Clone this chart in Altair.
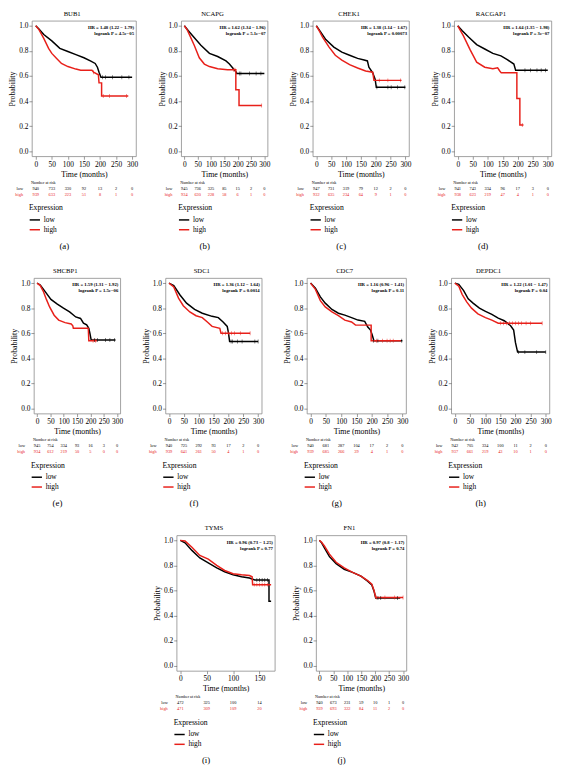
import altair as alt
import pandas as pd

SERIF = "Liberation Serif"
RED = "#e8201a"
H = 138

GENES = ["BUB1", "NCAPG", "CHEK1", "RACGAP1", "SHCBP1", "SDC1", "CDC7", "DEPDC1", "TYMS", "FN1"]
LETTERS = ["(a)", "(b)", "(c)", "(d)", "(e)", "(f)", "(g)", "(h)", "(i)", "(j)"]
HR_TEXT = ["HR = 1.48 (1.22 − 1.79)", "HR = 1.62 (1.34 − 1.96)", "HR = 1.38 (1.14 − 1.67)",
           "HR = 1.64 (1.35 − 1.98)", "HR = 1.59 (1.31 − 1.92)", "HR = 1.36 (1.12 − 1.64)",
           "HR = 1.16 (0.96 − 1.41)", "HR = 1.22 (1.01 − 1.47)", "HR = 0.96 (0.73 − 1.25)",
           "HR = 0.97 (0.8 − 1.17)"]
P_TEXT = ["logrank P = 4.5e−05", "logrank P = 5.1e−07", "logrank P = 0.00073",
          "logrank P = 3e−07", "logrank P = 1.5e−06", "logrank P = 0.0014",
          "logrank P = 0.11", "logrank P = 0.04", "logrank P = 0.77", "logrank P = 0.74"]
WIDTHS = [106, 88, 98, 99, 88, 98, 101, 100, 100, 92]

RISK_TIMES = [0, 50, 100, 150, 200, 250, 300]
TYMS_RISK_TIMES = [0, 50, 100, 150]

# ---- survival curves (time in months, probability) ----
BUB1_LOW = [(0, 1.0), (10, 0.975), (25, 0.93), (50, 0.88), (75, 0.82), (100, 0.795), (125, 0.77),
            (150, 0.745), (170, 0.72), (185, 0.70), (192, 0.67), (197, 0.63), (203, 0.59), (300, 0.59)]
BUB1_HIGH = [(0, 1.0), (10, 0.97), (25, 0.90), (40, 0.82), (50, 0.78), (65, 0.74), (80, 0.70),
             (100, 0.675), (125, 0.655), (140, 0.645), (175, 0.645), (180, 0.63), (195, 0.61),
             (197, 0.545), (205, 0.545), (205, 0.44), (288, 0.44)]
BUB1_LOW_CENS = [(208, 0.59), (217, 0.59), (239, 0.59), (268, 0.59), (290, 0.59)]
BUB1_HIGH_CENS = [(180, 0.63), (210, 0.44), (230, 0.44), (283, 0.44)]

NCAPG_LOW = [(0, 1.0), (15, 0.96), (31, 0.92), (62, 0.845), (94, 0.78), (125, 0.755), (156, 0.72),
             (169, 0.695), (187, 0.65), (195, 0.63), (196, 0.62), (300, 0.62)]
NCAPG_HIGH = [(0, 1.0), (10, 0.97), (19, 0.93), (37, 0.845), (56, 0.745), (75, 0.695), (94, 0.675),
              (125, 0.657), (162, 0.65), (193, 0.65), (193, 0.49), (205, 0.49), (205, 0.365), (290, 0.365)]
NCAPG_LOW_CENS = [(206, 0.62), (212, 0.62), (244, 0.62), (269, 0.62), (287, 0.62)]
NCAPG_HIGH_CENS = [(185, 0.65), (190, 0.65), (290, 0.365)]

CHEK1_LOW = [(0, 1.0), (15, 0.95), (32, 0.89), (59, 0.83), (86, 0.79), (112, 0.765), (139, 0.74),
             (161, 0.727), (172, 0.72), (177, 0.67), (190, 0.625), (198, 0.575), (202, 0.51), (300, 0.51)]
CHEK1_HIGH = [(0, 1.0), (10, 0.96), (21, 0.91), (43, 0.83), (64, 0.765), (86, 0.727), (112, 0.69),
              (139, 0.664), (166, 0.64), (190, 0.63), (194, 0.565), (287, 0.565)]
CHEK1_LOW_CENS = [(204, 0.51), (241, 0.51), (252, 0.51), (273, 0.51), (298, 0.51)]
CHEK1_HIGH_CENS = [(212, 0.565), (241, 0.565), (284, 0.565)]

RACGAP1_LOW = [(0, 1.0), (15, 0.96), (36, 0.91), (63, 0.85), (90, 0.815), (117, 0.78), (144, 0.76),
               (165, 0.73), (187, 0.695), (193, 0.645), (300, 0.645)]
RACGAP1_HIGH = [(0, 1.0), (19, 0.92), (41, 0.81), (63, 0.71), (90, 0.67), (117, 0.657), (133, 0.665),
                (140, 0.64), (145, 0.625), (197, 0.625), (197, 0.42), (207, 0.42), (207, 0.21), (219, 0.21)]
RACGAP1_LOW_CENS = [(224, 0.645), (243, 0.645), (264, 0.645), (278, 0.645), (292, 0.645)]
RACGAP1_HIGH_CENS = [(215, 0.21)]

SHCBP1_LOW = [(0, 1.0), (12, 0.985), (29, 0.936), (52, 0.87), (76, 0.833), (99, 0.80), (122, 0.77),
              (145, 0.73), (163, 0.718), (174, 0.68), (186, 0.667), (194, 0.64), (198, 0.60),
              (203, 0.546), (294, 0.546)]
SHCBP1_HIGH = [(0, 1.0), (12, 0.98), (23, 0.936), (35, 0.87), (47, 0.81), (64, 0.744), (81, 0.705),
               (105, 0.685), (128, 0.674), (134, 0.66), (136, 0.64), (192, 0.64), (194, 0.54), (224, 0.54)]
SHCBP1_LOW_CENS = [(215, 0.546), (227, 0.546), (256, 0.546), (273, 0.546), (291, 0.546)]
SHCBP1_HIGH_CENS = [(210, 0.54), (220, 0.54)]

SDC1_LOW = [(0, 1.0), (16, 0.98), (37, 0.905), (59, 0.84), (86, 0.79), (112, 0.76), (145, 0.735),
            (166, 0.725), (182, 0.69), (196, 0.655), (200, 0.605), (204, 0.535), (300, 0.535)]
SDC1_HIGH = [(0, 1.0), (16, 0.97), (32, 0.88), (48, 0.82), (70, 0.77), (91, 0.74), (112, 0.725),
             (129, 0.69), (145, 0.655), (171, 0.64), (175, 0.60), (273, 0.60)]
SDC1_LOW_CENS = [(209, 0.535), (214, 0.535), (230, 0.535), (246, 0.535), (289, 0.535), (300, 0.535)]
SDC1_HIGH_CENS = [(180, 0.60), (190, 0.60), (200, 0.60), (210, 0.60), (220, 0.60), (240, 0.60), (273, 0.60)]

CDC7_LOW = [(0, 1.0), (16, 0.96), (32, 0.89), (48, 0.84), (70, 0.79), (91, 0.76), (112, 0.745),
            (134, 0.725), (155, 0.705), (177, 0.695), (187, 0.65), (196, 0.625), (201, 0.59),
            (207, 0.54), (300, 0.54)]
CDC7_HIGH = [(0, 1.0), (16, 0.95), (32, 0.86), (48, 0.81), (70, 0.77), (91, 0.74), (112, 0.705),
             (134, 0.69), (147, 0.665), (198, 0.665), (198, 0.54), (295, 0.54)]
CDC7_LOW_CENS = [(205, 0.54), (220, 0.54), (298, 0.54)]
CDC7_HIGH_CENS = [(215, 0.54), (235, 0.54), (250, 0.54), (260, 0.54), (270, 0.54)]

DEPDC1_LOW = [(0, 1.0), (13, 0.99), (29, 0.94), (44, 0.875), (60, 0.84), (81, 0.80), (101, 0.775),
              (122, 0.75), (143, 0.72), (163, 0.70), (184, 0.66), (194, 0.625), (200, 0.525),
              (207, 0.45), (300, 0.45)]
DEPDC1_HIGH = [(0, 1.0), (13, 0.975), (24, 0.91), (39, 0.85), (55, 0.80), (76, 0.755), (101, 0.725),
               (122, 0.705), (143, 0.68), (288, 0.68)]
DEPDC1_LOW_CENS = [(210, 0.45), (231, 0.45), (270, 0.45), (300, 0.45)]
DEPDC1_HIGH_CENS = [(150, 0.68), (160, 0.68), (170, 0.68), (180, 0.68), (190, 0.68), (200, 0.68),
                    (210, 0.68), (220, 0.68), (235, 0.68), (250, 0.68), (288, 0.68)]

TYMS_LOW = [(0, 1.0), (9, 0.98), (22, 0.92), (37, 0.86), (53, 0.82), (69, 0.78), (84, 0.75),
            (100, 0.726), (116, 0.71), (131, 0.70), (141, 0.684), (168, 0.684), (168, 0.515), (172, 0.515)]
TYMS_HIGH = [(0, 1.0), (9, 0.995), (22, 0.945), (37, 0.88), (53, 0.85), (69, 0.80), (84, 0.76),
             (100, 0.734), (116, 0.726), (131, 0.72), (136, 0.71), (137, 0.647), (172, 0.647)]
TYMS_LOW_CENS = [(145, 0.684), (150, 0.684), (155, 0.684), (160, 0.684), (165, 0.684)]
TYMS_HIGH_CENS = [(140, 0.647), (145, 0.647), (150, 0.647), (155, 0.647), (160, 0.647), (165, 0.647)]

FN1_LOW = [(0, 1.0), (8, 0.98), (18, 0.94), (36, 0.87), (60, 0.815), (89, 0.77), (119, 0.745),
           (149, 0.715), (173, 0.675), (188, 0.645), (196, 0.595), (202, 0.54), (290, 0.54)]
FN1_HIGH = [(0, 1.0), (8, 0.985), (18, 0.955), (36, 0.89), (60, 0.825), (89, 0.78), (119, 0.745),
            (149, 0.715), (173, 0.68), (188, 0.65), (196, 0.60), (202, 0.545), (300, 0.545)]
FN1_LOW_CENS = [(210, 0.54), (220, 0.54), (280, 0.54)]
FN1_HIGH_CENS = [(205, 0.545), (235, 0.545), (270, 0.545), (300, 0.545)]

# ---- number at risk ----
BUB1_RISK_LOW = [940, 733, 330, 92, 13, 2, 0]
BUB1_RISK_HIGH = [939, 633, 223, 51, 8, 1, 0]
NCAPG_RISK_LOW = [945, 736, 325, 85, 15, 2, 0]
NCAPG_RISK_HIGH = [934, 630, 228, 58, 6, 1, 0]
CHEK1_RISK_LOW = [947, 731, 319, 79, 12, 2, 0]
CHEK1_RISK_HIGH = [932, 635, 234, 64, 9, 1, 0]
RACGAP1_RISK_LOW = [941, 743, 334, 96, 17, 3, 0]
RACGAP1_RISK_HIGH = [938, 623, 219, 47, 4, 1, 0]
SHCBP1_RISK_LOW = [945, 754, 334, 93, 16, 3, 0]
SHCBP1_RISK_HIGH = [934, 612, 219, 50, 5, 0, 0]
SDC1_RISK_LOW = [940, 725, 292, 93, 17, 2, 0]
SDC1_RISK_HIGH = [939, 641, 261, 50, 4, 1, 0]
CDC7_RISK_LOW = [940, 681, 287, 104, 17, 2, 0]
CDC7_RISK_HIGH = [939, 685, 266, 39, 4, 1, 0]
DEPDC1_RISK_LOW = [942, 705, 334, 100, 11, 2, 0]
DEPDC1_RISK_HIGH = [937, 661, 219, 43, 10, 1, 0]
TYMS_RISK_LOW = [472, 325, 100, 14]
TYMS_RISK_HIGH = [471, 309, 109, 20]
FN1_RISK_LOW = [940, 673, 231, 59, 10, 1, 0]
FN1_RISK_HIGH = [939, 693, 322, 84, 11, 2, 0]


def curve_df(low, high):
    rows = []
    for g, pts in (("low", low), ("high", high)):
        for i, (t, p) in enumerate(pts):
            rows.append({"t": t, "p": p, "g": g, "i": i})
    return pd.DataFrame(rows)


def pts_df(pts):
    return pd.DataFrame({"t": [a for a, _ in pts], "p": [b for _, b in pts]})


def txt(s, x, y, size, align="center", color="black", weight="normal"):
    return alt.Chart(pd.DataFrame({"s": [s]})).mark_text(
        font=SERIF, fontSize=size, align=align, baseline="middle", color=color, fontWeight=weight
    ).encode(x=alt.value(x), y=alt.value(y), text="s:N")


def panel(k, low, high, low_c, high_c, risk_t, risk_low, risk_high, xdom, xticks):
    W = WIDTHS[k]
    xs = alt.Scale(domain=xdom, nice=False, zero=False)
    ys = alt.Scale(domain=[-0.04, 1.04], nice=False, zero=False)
    x_enc = alt.X("t:Q", scale=xs, axis=alt.Axis(values=xticks, title="Time (months)"))
    y_enc = alt.Y("p:Q", scale=ys, axis=alt.Axis(values=[0, 0.2, 0.4, 0.6, 0.8, 1.0], format=".1f",
                                                  title="Probability"))
    legend = alt.Legend(title="Expression", orient="none", legendX=-3, legendY=H + 49,
                        symbolType="stroke", symbolSize=110, symbolStrokeWidth=1.5,
                        labelFont=SERIF, labelFontSize=7.5, titleFont=SERIF, titleFontSize=7.8,
                        titleFontWeight="normal", rowPadding=0, titlePadding=2, labelOffset=3,
                        padding=0, direction="vertical")
    lines = alt.Chart(curve_df(low, high)).mark_line(strokeWidth=1.5).encode(
        x=x_enc, y=y_enc,
        color=alt.Color("g:N", scale=alt.Scale(domain=["low", "high"], range=["black", RED]), legend=legend),
        detail="g:N",
        order="i:Q",
    )
    cl = alt.Chart(pts_df(low_c)).mark_tick(orient="vertical", size=4, thickness=0.7, color="black").encode(
        x=x_enc, y=y_enc)
    ch = alt.Chart(pts_df(high_c)).mark_tick(orient="vertical", size=4, thickness=0.7, color=RED).encode(
        x=x_enc, y=y_enc)
    rdf = pd.DataFrame({"t": risk_t, "low": risk_low, "high": risk_high})
    rl = alt.Chart(rdf).mark_text(font=SERIF, fontSize=4.4, color="black").encode(
        x=x_enc, y=alt.value(H + 33), text="low:Q")
    rh = alt.Chart(rdf).mark_text(font=SERIF, fontSize=4.4, color=RED).encode(
        x=x_enc, y=alt.value(H + 39), text="high:Q")
    layers = [
        lines, cl, ch, rl, rh,
        txt(GENES[k], W / 2 - 12, -7, 6.8),
        txt("Number at risk", -1, H + 27, 4.2, align="left"),
        txt("low", -9, H + 33, 4.4, align="right"),
        txt("high", -9, H + 39, 4.4, align="right", color=RED),
        txt(HR_TEXT[k], W - 2, 7.5, 4.8, align="right", weight="bold"),
        txt(P_TEXT[k], W - 2, 13.5, 4.8, align="right", weight="bold"),
        txt(LETTERS[k], W / 2 - 20, H + 91, 9),
    ]
    return alt.layer(*layers).properties(width=W, height=H)


X300 = [-12, 312]
T300 = [0, 50, 100, 150, 200, 250, 300]

p_a = panel(0, BUB1_LOW, BUB1_HIGH, BUB1_LOW_CENS, BUB1_HIGH_CENS, RISK_TIMES, BUB1_RISK_LOW, BUB1_RISK_HIGH, X300, T300)
p_b = panel(1, NCAPG_LOW, NCAPG_HIGH, NCAPG_LOW_CENS, NCAPG_HIGH_CENS, RISK_TIMES, NCAPG_RISK_LOW, NCAPG_RISK_HIGH, X300, T300)
p_c = panel(2, CHEK1_LOW, CHEK1_HIGH, CHEK1_LOW_CENS, CHEK1_HIGH_CENS, RISK_TIMES, CHEK1_RISK_LOW, CHEK1_RISK_HIGH, X300, T300)
p_d = panel(3, RACGAP1_LOW, RACGAP1_HIGH, RACGAP1_LOW_CENS, RACGAP1_HIGH_CENS, RISK_TIMES, RACGAP1_RISK_LOW, RACGAP1_RISK_HIGH, X300, T300)
p_e = panel(4, SHCBP1_LOW, SHCBP1_HIGH, SHCBP1_LOW_CENS, SHCBP1_HIGH_CENS, RISK_TIMES, SHCBP1_RISK_LOW, SHCBP1_RISK_HIGH, X300, T300)
p_f = panel(5, SDC1_LOW, SDC1_HIGH, SDC1_LOW_CENS, SDC1_HIGH_CENS, RISK_TIMES, SDC1_RISK_LOW, SDC1_RISK_HIGH, X300, T300)
p_g = panel(6, CDC7_LOW, CDC7_HIGH, CDC7_LOW_CENS, CDC7_HIGH_CENS, RISK_TIMES, CDC7_RISK_LOW, CDC7_RISK_HIGH, X300, T300)
p_h = panel(7, DEPDC1_LOW, DEPDC1_HIGH, DEPDC1_LOW_CENS, DEPDC1_HIGH_CENS, RISK_TIMES, DEPDC1_RISK_LOW, DEPDC1_RISK_HIGH, X300, T300)
p_i = panel(8, TYMS_LOW, TYMS_HIGH, TYMS_LOW_CENS, TYMS_HIGH_CENS, TYMS_RISK_TIMES, TYMS_RISK_LOW, TYMS_RISK_HIGH, [-7, 179], [0, 50, 100, 150])
p_j = panel(9, FN1_LOW, FN1_HIGH, FN1_LOW_CENS, FN1_HIGH_CENS, RISK_TIMES, FN1_RISK_LOW, FN1_RISK_HIGH, X300, T300)

IND = dict(color="independent", x="independent", y="independent")
row1 = alt.hconcat(p_a, p_b, p_c, p_d, spacing=19).resolve_scale(**IND)
row2 = alt.hconcat(p_e, p_f, p_g, p_h, spacing=19).resolve_scale(**IND)
row3 = alt.hconcat(p_i, p_j, spacing=17).resolve_scale(**IND)

chart = alt.vconcat(row1, row2, row3, spacing=16, center=True).resolve_scale(**IND).properties(
    padding={"left": 0, "top": -5, "right": 0, "bottom": 0}
).configure_view(
    stroke="#8a8a8a", strokeWidth=0.8
).configure_axis(
    labelFont=SERIF, titleFont=SERIF, labelFontSize=7.5, titleFontSize=8, titleFontWeight="normal",
    grid=False, domain=False, tickColor="#555", tickSize=3, tickWidth=0.6, labelColor="black",
    titleColor="black", labelPadding=1, labelFlush=False, labelOverlap=False
).configure_axisX(titlePadding=3).configure_axisY(titlePadding=2)

chart.save("out.html", embed_options={"renderer": "svg", "actions": False})
